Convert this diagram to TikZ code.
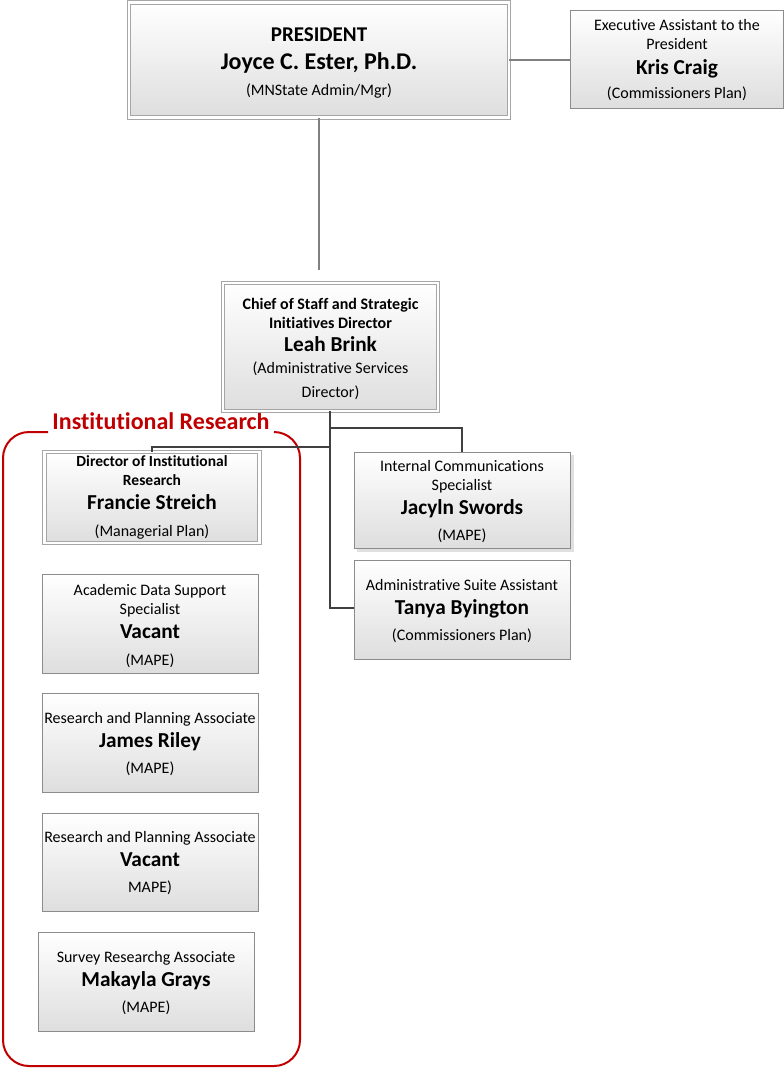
\documentclass[tikz,border=0pt]{standalone}
\usepackage{fontspec}
\setmainfont{Carlito}[Ligatures=NoCommon]
\definecolor{boxgray}{HTML}{8C8C8C}
\definecolor{dboxgray}{HTML}{A6A6A6}
\definecolor{linegray}{HTML}{808080}
\definecolor{linedark}{HTML}{404040}
\definecolor{irred}{HTML}{C00000}
\newcommand{\nmx}[1]{{\bfseries\fontsize{21.3}{19}\selectfont #1}}
\newcommand{\bsm}[1]{{\bfseries #1}}
\newcommand{\nolsl}{\lineskiplimit=-30pt\relax}
\newcommand{\tp}{\rule{0pt}{15.5pt}}
\newcommand{\tq}{\rule{0pt}{13.5pt}}
\tikzset{
  box/.style={draw=boxgray, line width=0.9pt, shading=axis, top color=white, bottom color=black!13,
    align=center, inner sep=0pt, font={\fontsize{16}{19}\selectfont\nolsl}, minimum width=216pt},
  dbox/.style={box, draw=dboxgray, double=white, double distance=2.4pt},
  shadowbox/.style={fill=black!12, draw=none},
  conn/.style={draw=linedark, line width=2.2pt},
  connlight/.style={draw=linegray, line width=2pt},
  grp/.style={draw=irred, line width=2pt, rounded corners=26pt},
  grplabel/.style={text=irred, font=\bfseries\fontsize{24}{26}\selectfont, inner sep=0pt}
}
\begin{document}
\begin{tikzpicture}[x=1pt,y=-1pt]
\useasboundingbox (0,0) rectangle (784,1068);
% connectors
\coordinate (presdown) at (319,270);
\coordinate (chiefj1) at (330,428);
\coordinate (chiefj2) at (330,447);
\coordinate (chiefj3) at (330,608);
% group
\draw[grp] (48,432) -- (3,432) -- (3,1066) -- (300,1066) -- (300,432) -- (274,432);
\node[grplabel] (grplbl) at (161,421) {Institutional Research};
% shadow of Jacyln box
\fill[shadowbox] (357,455) rectangle (574,552);
% boxes
\node[dbox, minimum width=380pt, minimum height=115pt, font={\fontsize{16}{27.5}\selectfont\nolsl}] (pres) at (319,60)
  {\rule{0pt}{19pt}{\bfseries\fontsize{21}{19}\selectfont PRESIDENT}\\[1pt] {\bfseries\fontsize{24}{20}\selectfont Joyce C. Ester, Ph.D.}\\[-2pt] (MNState Admin/Mgr)};
\node[box, minimum width=213pt, minimum height=98pt] (exec) at (677,59)
  {\tq Executive Assistant to the\\ President\\[6pt] \nmx{Kris Craig}\\[5pt] (Commissioners Plan)};
\node[dbox, minimum width=215pt, minimum height=128pt] (chief) at (330.5,347)
  {\tp\bsm{Chief of Staff and Strategic}\\ \bsm{Initiatives Director}\\[4pt] \nmx{Leah Brink}\\[3pt] (Administrative Services\\[5pt] Director)};
\node[dbox, minimum width=215pt, minimum height=91pt] (dirir) at (152,497.5)
  {\bsm{\fontsize{15.5}{19}\selectfont Director of Institutional}\\ \bsm{\fontsize{15.5}{19}\selectfont Research}\\[5pt] \nmx{Francie Streich}\\[8pt] (Managerial Plan)};
\node[box, minimum height=96pt] (jac) at (462,500)
  {\tq Internal Communications\\ Specialist\\[5pt] \nmx{Jacyln Swords}\\[7pt] (MAPE)};
\node[box, minimum height=99pt] (tanya) at (462,609.5)
  {\tq Administrative Suite Assistant\\[5pt] \nmx{Tanya Byington}\\[7pt] (Commissioners Plan)};
\node[box, minimum height=99pt] (acad) at (150,623.5)
  {\rule{0pt}{17pt}Academic Data Support\\ Specialist\\[5pt] \nmx{Vacant}\\[8pt] (MAPE)};
\node[box, minimum height=99pt] (james) at (150,742.5)
  {\tq Research and Planning Associate\\[5pt] \nmx{James Riley}\\[7pt] (MAPE)};
\node[box, minimum height=98pt] (vac) at (150,862)
  {\tq Research and Planning Associate\\[5pt] \nmx{Vacant}\\[7pt] MAPE)};
\node[box, minimum height=99pt] (mak) at (146,981.5)
  {\tq Survey Researchg Associate\\[5pt] \nmx{Makayla Grays}\\[7pt] (MAPE)};
% connector lines
\draw[connlight] (pres.south) -- (presdown);
\draw[connlight] (pres.east) -- (pres.east -| exec.west);
\draw[conn] (chief.south -| chiefj1) -- (chiefj3) -- (tanya.west |- chiefj3);
\draw[conn] (chiefj2) -- (chiefj2 -| dirir.north) -- (dirir.north);
\draw[conn] (chiefj1) -- (chiefj1 -| jac.north) -- (jac.north);
\end{tikzpicture}
\end{document}
